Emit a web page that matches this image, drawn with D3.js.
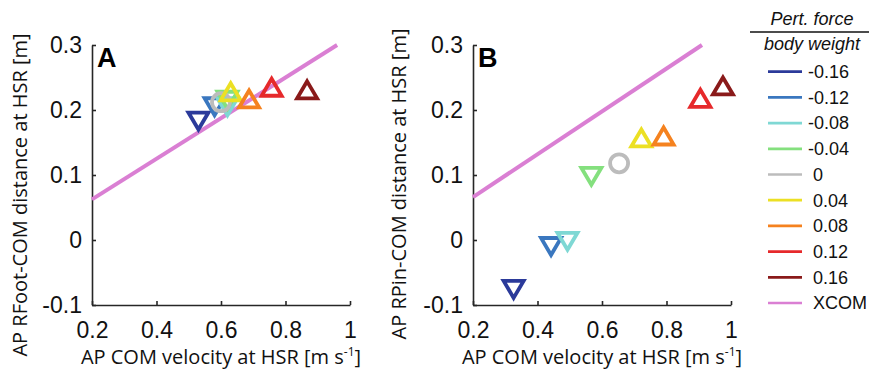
<!DOCTYPE html>
<html>
<head>
<meta charset="utf-8">
<script src="https://cdn.jsdelivr.net/npm/d3@7"></script>
<style>
  body { margin: 0; background: #fff; }
  svg { display: block; }
  .tick text { font-family: "Liberation Sans", Arial, sans-serif; font-size: 23px; fill: #111; }
  .title { font-family: "Open Sans", sans-serif; font-size: 20px; fill: #111; }
  .legend text { font-family: "Liberation Sans", Arial, sans-serif; font-size: 18px; fill: #111; }
</style>
</head>
<body>
<div id="chart"></div>
<script>
// perturbation force levels (fraction of body weight)
const forces = ["-0.16", "-0.12", "-0.08", "-0.04", "0", "0.04", "0.08", "0.12", "0.16"]
const forceColors = ["#2b3a9a", "#3a77bf", "#7fd8d4", "#84e07e", "#bcbcbc", "#ece024", "#f5821f", "#e6292b", "#8a1a1a"]
const xcomColor = "#da7fd3"

// panel A: AP COM velocity vs RFoot-COM distance
const aVel = [0.53, 0.58, 0.62, 0.62, 0.60, 0.63, 0.687, 0.757, 0.867]
const aDist = [0.183, 0.205, 0.205, 0.215, 0.212, 0.228, 0.217, 0.235, 0.231]
const aXcomVel = [0.2, 0.96]
const aXcomDist = [0.0625, 0.3]

// panel B: AP COM velocity vs RPin-COM distance
const bVel = [0.326, 0.442, 0.493, 0.567, 0.653, 0.722, 0.791, 0.905, 0.975]
const bDist = [-0.076, -0.010, -0.002, 0.098, 0.118, 0.157, 0.160, 0.218, 0.237]
const bXcomVel = [0.2, 0.91]
const bXcomDist = [0.066, 0.3]

const xTicks = [0.2, 0.4, 0.6, 0.8, 1]
const yTicks = [-0.1, 0, 0.1, 0.2, 0.3]

const W = 869, H = 372
const plotW = 258, plotH = 260, plotTop = 45

const svg = d3.select("#chart").append("svg")
  .attr("width", W)
  .attr("height", H)

const fmt = d => String(+d.toFixed(2))

// triangle with its box centred on the point; dir 1 = up, -1 = down
function triangle(dir) {
  const hw = 10, hh = 8.5
  return `M0,${-dir * hh}L${hw},${dir * hh}L${-hw},${dir * hh}Z`
}

function drawPanel(left, letter, vel, dist, xcomVel, xcomDist, yTitle, yTitleX, yTitleMid) {
  const x = d3.scaleLinear().domain([0.2, 1]).range([0, plotW])
  const y = d3.scaleLinear().domain([-0.1, 0.3]).range([plotH, 0])

  const g = svg.append("g")
    .attr("transform", "translate(" + left + "," + plotTop + ")")

  g.append("g")
    .attr("transform", "translate(0," + plotH + ")")
    .call(d3.axisBottom(x).tickValues(xTicks).tickFormat(fmt)
      .tickSizeInner(-4).tickSizeOuter(0).tickPadding(17))

  g.append("g")
    .call(d3.axisLeft(y).tickValues(yTicks).tickFormat(fmt)
      .tickSizeInner(-4).tickSizeOuter(0).tickPadding(10))

  g.selectAll(".domain, .tick line")
    .attr("stroke", "#262626")
    .attr("stroke-width", 1.6)

  g.append("text")
    .attr("x", 5)
    .attr("y", 22)
    .attr("font-family", "Liberation Sans, Arial, sans-serif")
    .attr("font-weight", "bold")
    .attr("font-size", 27)
    .text(letter)

  const xcom = xcomVel.map((v, i) => [v, xcomDist[i]])
  g.append("path")
    .datum(xcom)
    .attr("fill", "none")
    .attr("stroke", xcomColor)
    .attr("stroke-width", 4)
    .attr("d", d3.line().x(d => x(d[0])).y(d => y(d[1])))

  const pts = forces.map((f, i) => ({ f: +f, c: forceColors[i], v: vel[i], d: dist[i] }))

  g.selectAll(".marker")
    .data(pts)
    .enter()
    .append("path")
    .attr("class", "marker")
    .attr("transform", d => "translate(" + x(d.v) + "," + y(d.d) + ")")
    .attr("d", d => d.f === 0 ? d3.arc()({ innerRadius: 0, outerRadius: 9, startAngle: 0, endAngle: 2 * Math.PI }) : triangle(d.f > 0 ? 1 : -1))
    .attr("fill", "none")
    .attr("stroke", d => d.c)
    .attr("stroke-width", 3.8)
    .attr("stroke-linejoin", "miter")

  // axis titles
  const xt = svg.append("text")
    .attr("class", "title")
    .attr("x", left + plotW / 2)
    .attr("y", 364)
    .attr("text-anchor", "middle")
  xt.append("tspan").text("AP COM velocity at HSR [m s")
  xt.append("tspan").attr("font-size", 12).attr("dy", -8).text("-1")
  xt.append("tspan").attr("dy", 8).text("]")

  svg.append("text")
    .attr("class", "title")
    .attr("transform", "translate(" + yTitleX + "," + yTitleMid + ") rotate(-90)")
    .attr("text-anchor", "middle")
    .text(yTitle)
}

drawPanel(92, "A", aVel, aDist, aXcomVel, aXcomDist, "AP RFoot-COM distance at HSR [m]", 27, 195)
drawPanel(473, "B", bVel, bDist, bXcomVel, bXcomDist, "AP RPin-COM distance at HSR [m]", 406, 184)

// legend
const legend = svg.append("g").attr("class", "legend")

legend.append("text")
  .attr("x", 812).attr("y", 25)
  .attr("text-anchor", "middle")
  .attr("font-style", "italic")
  .text("Pert. force")

legend.append("line")
  .attr("x1", 750).attr("x2", 869)
  .attr("y1", 32).attr("y2", 32)
  .attr("stroke", "#111")
  .attr("stroke-width", 1.5)

legend.append("text")
  .attr("x", 812).attr("y", 50)
  .attr("text-anchor", "middle")
  .attr("font-style", "italic")
  .text("body weight")

const items = forces.map((f, i) => ({ label: f, c: forceColors[i] }))
  .concat([{ label: "XCOM", c: xcomColor }])

const row = legend.selectAll(".item")
  .data(items)
  .enter()
  .append("g")
  .attr("class", "item")
  .attr("transform", (d, i) => "translate(0," + (71.7 + i * 25.7) + ")")

row.append("line")
  .attr("x1", 768).attr("x2", 802)
  .attr("stroke", d => d.c)
  .attr("stroke-width", 2.7)

row.append("text")
  .attr("x", d => d.label.startsWith("-") ? 808 : 813)
  .attr("dy", "0.35em")
  .text(d => d.label)
</script>
</body>
</html>
